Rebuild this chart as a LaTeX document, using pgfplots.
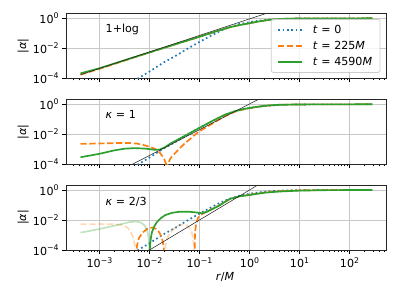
\documentclass[border=0pt]{standalone}
\usepackage{fontspec}
\setmainfont{DejaVu Sans}
\usepackage{pgfplots}
\usepackage{pgfplotstable}
\pgfplotsset{compat=1.18}
\definecolor{c0}{HTML}{1F77B4}
\definecolor{c1}{HTML}{FF7F0E}
\definecolor{c2}{HTML}{2CA02C}
\definecolor{gridc}{HTML}{C8C8C8}
\definecolor{legc}{HTML}{CCCCCC}
\newcommand{\tp}[1]{10\raisebox{0.42em}{\fontsize{7.8}{8}\selectfont #1}}
\newcommand{\fs}{\fontsize{11.1}{13}\selectfont}
\newcommand{\eq}{\hspace{0.33em}=\hspace{0.33em}}

\pgfplotstableread{
lx ly
-3.38 -6.3
-2.8 -5.1
-2.25 -4.05
-2.0 -3.55
-1.72 -2.95
-1.5 -2.55
-1.25 -2.05
-1.0 -1.57
-0.79 -1.2
-0.59 -0.85
-0.4 -0.58
-0.2 -0.38
0.0 -0.25
0.2 -0.15
0.4 -0.08
0.6 -0.04
0.9 -0.015
1.3 -0.004
2.46 0
}\tblue

\pgfplotstableread{
lx ly
-3.38 -3.67
-3.0 -3.33
-2.5 -2.8
-2.0 -2.27
-1.5 -1.75
-1.0 -1.23
-0.6 -0.8
-0.4 -0.6
-0.2 -0.45
0.0 -0.33
0.2 -0.2
0.4 -0.1
0.6 -0.045
0.9 -0.015
1.3 -0.004
2.46 0
}\tgA

\pgfplotstableread{
lx ly
-3.38 -3.76
-3.0 -3.37
-2.5 -2.82
-2.0 -2.28
-1.5 -1.75
-1.0 -1.23
-0.6 -0.8
-0.4 -0.6
-0.2 -0.45
0.0 -0.33
0.2 -0.2
0.4 -0.1
0.6 -0.045
0.9 -0.015
1.3 -0.004
2.46 0
}\toA

\pgfplotstableread{
lx ly
-3.38 -3.76
0.6 0.62
}\tkA

\pgfplotstableread{
lx ly
-3.38 -2.64
-3.0 -2.61
-2.6 -2.58
-2.4 -2.58
-2.25 -2.62
-2.1 -2.73
-1.93 -2.91
-1.85 -3.05
-1.79 -3.24
-1.72 -3.55
-1.67 -3.95
-1.65 -4.3
-1.63 -3.95
-1.58 -3.6
-1.5 -3.3
-1.4 -2.95
-1.3 -2.62
-1.2 -2.35
-1.1 -2.05
-1.0 -1.8
-0.85 -1.5
-0.7 -1.2
-0.5 -0.8
-0.3 -0.5
-0.1 -0.32
0.1 -0.2
0.3 -0.1
0.6 -0.03
1.0 -0.008
1.4 -0.002
2.46 0
}\toB

\pgfplotstableread{
lx ly
-3.38 -3.53
-3.0 -3.3
-2.7 -3.07
-2.5 -2.96
-2.3 -2.92
-2.1 -2.95
-1.9 -3.03
-1.8 -3.02
-1.7 -2.88
-1.6 -2.66
-1.5 -2.47
-1.25 -2.02
-1.0 -1.57
-0.75 -1.12
-0.5 -0.7
-0.3 -0.47
-0.1 -0.3
0.1 -0.19
0.3 -0.1
0.6 -0.03
1.0 -0.008
1.4 -0.002
2.46 0
}\tgB

\pgfplotstableread{
lx ly
-2.5 -4.27
0.3 0.54
}\tkB

\pgfplotstableread{
lx ly
-3.38 -2.28
-3.0 -2.27
-2.7 -2.28
-2.55 -2.33
-2.45 -2.48
-2.38 -2.75
-2.33 -3.15
-2.29 -3.7
-2.27 -4.5
}\toCa

\pgfplotstableread{
lx ly
-2.27 -4.5
-2.25 -3.7
-2.21 -3.2
-2.14 -2.85
-2.05 -2.6
-1.95 -2.5
-1.86 -2.6
-1.8 -2.85
-1.75 -3.2
-1.72 -3.7
-1.70 -4.5
}\toCb

\pgfplotstableread{
lx ly
-1.70 -4.5
-1.68 -3.7
-1.63 -3.1
-1.55 -2.7
-1.45 -2.42
-1.35 -2.3
-1.25 -2.35
-1.18 -2.6
-1.14 -3.0
-1.12 -3.5
-1.10 -4.5
}\toCc

\pgfplotstableread{
lx ly
-1.10 -4.5
-1.09 -2.9
-1.07 -2.3
-1.03 -1.85
-0.97 -1.65
-0.9 -1.52
-0.8 -1.35
-0.6 -1.02
-0.4 -0.62
-0.2 -0.42
0.0 -0.32
0.3 -0.16
0.6 -0.07
1.0 -0.02
1.5 -0.004
2.46 0
}\toCd

\pgfplotstableread{
lx ly
-3.38 -2.84
-3.2 -2.73
-3.0 -2.6
-2.8 -2.45
-2.6 -2.3
-2.4 -2.14
-2.28 -2.1
-2.18 -2.16
-2.1 -2.35
-2.05 -2.65
-2.02 -3.1
-2.005 -3.8
-2.0 -4.6
}\tgCa

\pgfplotstableread{
lx ly
-2.0 -4.6
-1.99 -3.7
-1.97 -3.15
-1.95 -2.8
-1.9 -2.4
-1.85 -2.13
-1.77 -1.87
-1.69 -1.68
-1.55 -1.52
-1.4 -1.45
-1.2 -1.45
-1.05 -1.5
-0.95 -1.55
-0.85 -1.45
-0.7 -1.2
-0.6 -1.02
-0.4 -0.6
-0.2 -0.42
0.0 -0.33
0.3 -0.18
0.6 -0.1
1.0 -0.04
1.5 -0.01
2.0 -0.002
2.46 0
}\tgCb

\pgfplotstableread{
lx ly
-2.1 -4.2
0.3 0.6
}\tkC

\pgfplotsset{legend image code/.code={\draw[#1] (0pt,0pt) -- (24pt,0pt);}}
\pgfplotsset{every axis/.append style={
    scale only axis,
    width=320pt, height=64.8pt,
    xmin=2.138e-4, xmax=537, ymin=1e-4, ymax=2.1,
    anchor=south west,
    tick pos=left, tick align=outside,
    xtick={1e-3,1e-2,1e-1,1,10,100},
    minor xtick={3e-4,4e-4,5e-4,6e-4,7e-4,8e-4,9e-4,2e-3,3e-3,4e-3,5e-3,6e-3,7e-3,8e-3,9e-3,2e-2,3e-2,4e-2,5e-2,6e-2,7e-2,8e-2,9e-2,0.2,0.3,0.4,0.5,0.6,0.7,0.8,0.9,2,3,4,5,6,7,8,9,20,30,40,50,60,70,80,90,200,300,400,500},
    ytick={1e-4,1e-2,1},
    yticklabels={\tp{−4},\tp{−2},\tp{0}},
    yminorticks=false,
    grid=major,
    major grid style={gridc, line width=0.85pt},
    major tick length=3.9pt, minor tick length=2.2pt,
    tick style={black, line width=0.8pt},
    axis line style={black!85, line width=0.85pt},
    ticklabel style={font=\fs},
    ylabel={|\textit{α}|},
    ylabel style={at={(axis description cs:-0.134,0.5)}, anchor=center, font=\fs},
  }}

\begin{document}
\begin{tikzpicture}
\useasboundingbox (0,0) rectangle (399pt,299pt);

\begin{loglogaxis}[at={(66pt,220.7pt)}, xticklabels={,,,,,},
  legend style={at={(rel axis cs:1,1)}, anchor=north east, xshift=-5.5pt, yshift=-5.5pt,
    draw=legc, line width=0.8pt, rounded corners=2pt, fill=white, fill opacity=0.8, text opacity=1,
    font=\fs, row sep=2.3pt, column sep=8pt, inner xsep=6pt, inner ysep=3.6pt, nodes={inner sep=2pt}},
  legend cell align=left,
]
\addplot[c0, line width=1.67pt, dash pattern=on 1.67pt off 2.75pt] table[x expr=10^(\thisrow{lx}), y expr=10^(\thisrow{ly})] {\tblue};
\addlegendentry{\textit{t}\eq0}
\addplot[c1, line width=1.67pt, dash pattern=on 6.2pt off 2.7pt] table[x expr=10^(\thisrow{lx}), y expr=10^(\thisrow{ly})] {\toA};
\addlegendentry{\textit{t}\eq225\textit{M}}
\addplot[c2, line width=1.67pt] table[x expr=10^(\thisrow{lx}), y expr=10^(\thisrow{ly})] {\tgA};
\addlegendentry{\textit{t}\eq4590\textit{M}}
\addplot[black!85, line width=0.55pt, forget plot] table[x expr=10^(\thisrow{lx}), y expr=10^(\thisrow{ly})] {\tkA};
\node[anchor=west, font=\fs] at (rel axis cs:0.113,0.76) {1+log};
\end{loglogaxis}

\begin{loglogaxis}[at={(66pt,134.7pt)}, xticklabels={,,,,,}]
\addplot[c0, line width=1.67pt, dash pattern=on 1.67pt off 2.75pt] table[x expr=10^(\thisrow{lx}), y expr=10^(\thisrow{ly})] {\tblue};
\addplot[c1, line width=1.67pt, dash pattern=on 6.2pt off 2.7pt] table[x expr=10^(\thisrow{lx}), y expr=10^(\thisrow{ly})] {\toB};
\addplot[c2, line width=1.67pt] table[x expr=10^(\thisrow{lx}), y expr=10^(\thisrow{ly})] {\tgB};
\addplot[black!85, line width=0.55pt] table[x expr=10^(\thisrow{lx}), y expr=10^(\thisrow{ly})] {\tkB};
\node[anchor=west, font=\fs] at (rel axis cs:0.113,0.77) {\textit{κ}\eq1};
\end{loglogaxis}

\begin{loglogaxis}[at={(66pt,49pt)},
  xticklabels={\tp{−3},\tp{−2},\tp{−1},\tp{0},\tp{1},\tp{2}},
  xlabel={\textit{r}/\textit{M}},
  xlabel style={at={(axis description cs:0.497,-0.412)}, anchor=center, font=\fs},
]
\addplot[c0, line width=1.67pt, dash pattern=on 1.67pt off 2.75pt] table[x expr=10^(\thisrow{lx}), y expr=10^(\thisrow{ly})] {\tblue};
\addplot[c1, line width=1.67pt, dash pattern=on 6.2pt off 2.7pt, draw opacity=0.3] table[x expr=10^(\thisrow{lx}), y expr=10^(\thisrow{ly})] {\toCa};
\addplot[c1, line width=1.67pt, dash pattern=on 6.2pt off 2.7pt] table[x expr=10^(\thisrow{lx}), y expr=10^(\thisrow{ly})] {\toCb};
\addplot[c1, line width=1.67pt, dash pattern=on 6.2pt off 2.7pt, draw opacity=0.3] table[x expr=10^(\thisrow{lx}), y expr=10^(\thisrow{ly})] {\toCc};
\addplot[c1, line width=1.67pt, dash pattern=on 6.2pt off 2.7pt] table[x expr=10^(\thisrow{lx}), y expr=10^(\thisrow{ly})] {\toCd};
\addplot[c2, line width=1.67pt, draw opacity=0.3] table[x expr=10^(\thisrow{lx}), y expr=10^(\thisrow{ly})] {\tgCa};
\addplot[c2, line width=1.67pt] table[x expr=10^(\thisrow{lx}), y expr=10^(\thisrow{ly})] {\tgCb};
\addplot[black!85, line width=0.55pt] table[x expr=10^(\thisrow{lx}), y expr=10^(\thisrow{ly})] {\tkC};
\node[anchor=west, font=\fs] at (rel axis cs:0.113,0.75) {\textit{κ}\eq2/3};
\end{loglogaxis}
\end{tikzpicture}
\end{document}
